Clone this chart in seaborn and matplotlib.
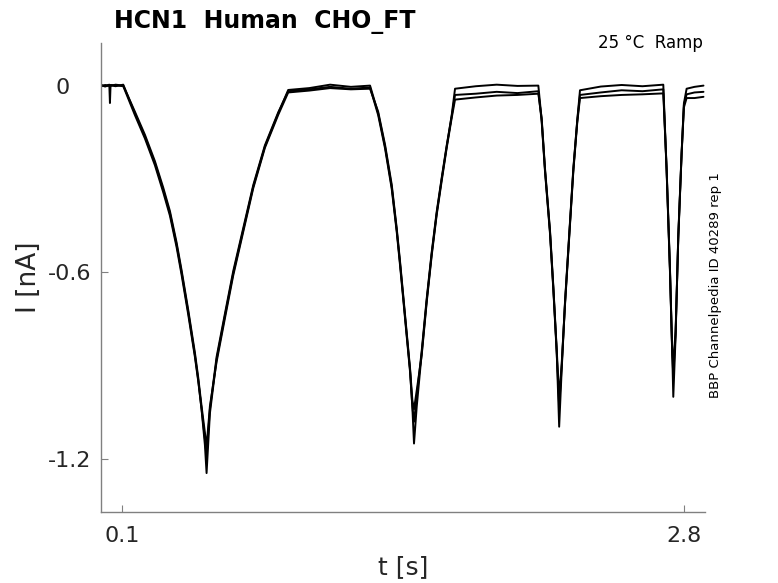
import numpy as np
import pandas as pd
import matplotlib.pyplot as plt
import seaborn as sns
from matplotlib.transforms import ScaledTranslation

# time points (s)
t_s = [0.000, 0.020, 0.040, 0.043, 0.046, 0.070, 0.107,
       0.163, 0.211, 0.259, 0.299, 0.331, 0.363, 0.387, 0.419, 0.451, 0.467, 0.483, 0.499, 0.507,
       0.523, 0.555, 0.595, 0.635, 0.683, 0.731, 0.787, 0.851, 0.899,
       1.000, 1.100, 1.200, 1.292,
       1.331, 1.364, 1.396, 1.420, 1.436, 1.451, 1.468, 1.484, 1.495, 1.503,
       1.516, 1.540, 1.564, 1.588, 1.612, 1.636, 1.660, 1.684, 1.700,
       1.800, 1.900, 2.000, 2.100,
       2.116, 2.132, 2.156, 2.172, 2.188, 2.200, 2.212, 2.228, 2.248, 2.268, 2.287, 2.300,
       2.400, 2.500, 2.600, 2.700,
       2.716, 2.732, 2.743, 2.748, 2.759, 2.772, 2.788, 2.799, 2.812,
       2.850, 2.893]

# three sweeps (nA)
i_a = [0.002, -0.003, 0.002, -0.056, 0.001, -0.002, 0.003,
       -0.089, -0.164, -0.249, -0.335, -0.410, -0.511, -0.600, -0.728, -0.866, -0.946, -1.041, -1.155, -1.245,
       -1.053, -0.880, -0.740, -0.603, -0.464, -0.325, -0.196, -0.089, -0.014,
       -0.008, 0.003, -0.004, 0.000,
       -0.089, -0.196, -0.325, -0.464, -0.571, -0.678, -0.800, -0.914, -1.032, -1.150,
       -1.032, -0.860, -0.690, -0.540, -0.410, -0.300, -0.196, -0.095, -0.010,
       -0.002, 0.003, -0.001, 0.000,
       -0.110, -0.271, -0.470, -0.650, -0.850, -1.096, -0.914, -0.700, -0.485, -0.271, -0.110, -0.015,
       -0.003, 0.002, -0.002, 0.003,
       -0.271, -0.592, -0.860, -1.000, -0.807, -0.485, -0.217, -0.057, -0.010,
       -0.004, 0.000]
i_b = [-0.002, 0.002, -0.001, 0.000, 0.002, 0.001, -0.002,
       -0.095, -0.170, -0.256, -0.343, -0.418, -0.519, -0.608, -0.736, -0.872, -0.950, -1.040, -1.135, -1.190,
       -1.040, -0.872, -0.733, -0.596, -0.458, -0.320, -0.192, -0.086, -0.018,
       -0.012, -0.004, -0.010, -0.006,
       -0.095, -0.202, -0.332, -0.470, -0.578, -0.684, -0.806, -0.920, -1.030, -1.080,
       -1.000, -0.852, -0.684, -0.535, -0.405, -0.296, -0.192, -0.098, -0.030,
       -0.026, -0.020, -0.024, -0.018,
       -0.115, -0.276, -0.476, -0.656, -0.856, -1.030, -0.905, -0.695, -0.480, -0.266, -0.112, -0.030,
       -0.022, -0.015, -0.018, -0.012,
       -0.276, -0.598, -0.865, -0.930, -0.800, -0.480, -0.214, -0.062, -0.028,
       -0.022, -0.020]
i_c = [0.001, -0.001, 0.003, -0.002, -0.001, 0.003, 0.000,
       -0.084, -0.158, -0.243, -0.328, -0.403, -0.504, -0.593, -0.721, -0.858, -0.938, -1.030, -1.115, -1.160,
       -1.030, -0.888, -0.748, -0.610, -0.470, -0.330, -0.200, -0.094, -0.022,
       -0.016, -0.008, -0.012, -0.010,
       -0.084, -0.190, -0.318, -0.458, -0.565, -0.672, -0.794, -0.908, -1.010, -1.040,
       -0.980, -0.866, -0.696, -0.546, -0.415, -0.306, -0.200, -0.104, -0.045,
       -0.038, -0.032, -0.030, -0.026,
       -0.105, -0.266, -0.465, -0.645, -0.845, -1.000, -0.895, -0.705, -0.490, -0.276, -0.118, -0.040,
       -0.034, -0.030, -0.028, -0.025,
       -0.266, -0.586, -0.855, -0.890, -0.790, -0.490, -0.220, -0.070, -0.040,
       -0.040, -0.036]

x_ticks = [0.1, 2.8]
x_ticklabels = ['0.1', '2.8']
y_ticks = [-1.2, -0.6, 0]
y_ticklabels = ['-1.2', '-0.6', '0']

df = pd.concat([
    pd.DataFrame({'t': t_s, 'I': i_a, 'sweep': 1}),
    pd.DataFrame({'t': t_s, 'I': i_b, 'sweep': 2}),
    pd.DataFrame({'t': t_s, 'I': i_c, 'sweep': 3}),
])

sns.set_style('white')
plt.rcParams['font.family'] = ['DejaVu Sans']

fig = plt.figure(figsize=(7.78, 5.83), dpi=100)
ax = fig.add_axes([0.1298, 0.1218, 0.7763, 0.8045])

sns.lineplot(data=df, x='t', y='I', units='sweep', estimator=None, sort=False,
             color='black', linewidth=1.4, ax=ax, legend=False)

ax.set_xlim(0, 2.9)
ax.set_ylim(-1.370, 0.137)
ax.set_xticks(x_ticks)
ax.set_xticklabels(x_ticklabels)
ax.set_yticks(y_ticks)
ax.set_yticklabels(y_ticklabels)

for side in ['top', 'right']:
    ax.spines[side].set_visible(False)
for side in ['left', 'bottom']:
    ax.spines[side].set_color('#808080')
    ax.spines[side].set_linewidth(1.0)

ax.tick_params(direction='in', length=5, width=0.8, color='#808080',
               bottom=True, left=True, labelsize=16, labelcolor='#262626')
ax.tick_params(axis='y', pad=7)
ax.tick_params(axis='x', pad=10)

# the zero label sits a bit further left in the reference
for lab in ax.get_yticklabels():
    if lab.get_text() == '0':
        lab.set_transform(lab.get_transform() + ScaledTranslation(-0.22, 0, fig.dpi_scale_trans))

ax.set_xlabel('t [s]', fontsize=18, color='#262626', va='center')
ax.set_ylabel('I [nA]', fontsize=19, color='#262626', va='center')
ax.xaxis.set_label_coords(0.5, -0.117)
ax.yaxis.set_label_coords(-0.119, 0.5)

fig.text(114 / 778, 1 - 28 / 583, 'HCN1  Human  CHO_FT', fontsize=17,
         fontweight='bold', ha='left', va='baseline', color='black')
fig.text(703 / 778, 1 - 48 / 583, '25 °C  Ramp', fontsize=12,
         ha='right', va='baseline', color='black')
fig.text(716 / 778, 1 - 285 / 583, 'BBP Channelpedia ID 40289 rep 1', fontsize=9.5,
         rotation=90, ha='center', va='center', color='black')

fig.savefig('out.png', dpi=100)
